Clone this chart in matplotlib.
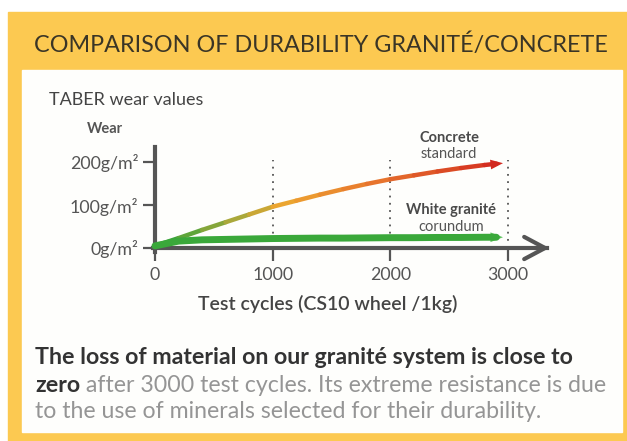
import matplotlib
matplotlib.use("Agg")
import matplotlib.pyplot as plt
import numpy as np
from matplotlib.collections import LineCollection
from matplotlib.colors import LinearSegmentedColormap
from matplotlib.patches import Rectangle

plt.rcParams['font.family'] = ['Lato', 'DejaVu Sans']

# data
cycles = [0, 200, 400, 600, 800, 1000, 1200, 1400, 1600, 1800, 2000, 2200, 2400, 2600, 2800, 2900]
concrete = [5, 23, 42, 60, 78, 96, 110, 124, 137, 149, 160, 169, 178, 186, 193, 196]
granite = [5, 16, 19, 20, 21, 22, 22.5, 23, 23, 23.5, 24, 24, 24.5, 24.5, 25, 25]
x_ticks = [0, 1000, 2000, 3000]
y_ticks = [0, 100, 200]
y_labels = ['0g/m²', '100g/m²', '200g/m²']
guides = [1000, 2000, 3000]

W, H = 627, 441
fig = plt.figure(figsize=(W / 100, H / 100), dpi=100)


def fx(px):
    return px / W


def fy(py):
    return 1 - py / H


# yellow frame and white card
fig.patches.append(Rectangle((fx(8), fy(441)), fx(619), 429 / H, transform=fig.transFigure,
                             color='#fcc951', zorder=-10))
fig.patches.append(Rectangle((fx(22), fy(432)), fx(600), 362 / H, transform=fig.transFigure,
                             color='#fefefc', zorder=-9))

fig.text(fx(321), fy(45), 'COMPARISON OF DURABILITY GRANITÉ/CONCRETE', ha='center', va='center',
         fontsize=16.8, color='#3a3526')
fig.text(fx(49), fy(100), 'TABER wear values', ha='left', va='center', fontsize=13, color='#444444')
fig.text(fx(105), fy(129), 'Wear', ha='center', va='center', fontsize=10.5, fontweight='bold', color='#555555')

# axes placed so that x=0 -> px 155, x=1000 -> 117.7px ; y=0 -> px 248, 100 -> 43px
ax_l, ax_r, ax_t, ax_b = 100, 600, 130, 300
ax = fig.add_axes([fx(ax_l), fy(ax_b), (ax_r - ax_l) / W, (ax_b - ax_t) / H])
ax.set_xlim((ax_l - 155) / 0.1177, (ax_r - 155) / 0.1177)
ax.set_ylim((248 - ax_b) / 0.43, (248 - ax_t) / 0.43)
ax.patch.set_alpha(0)

for s in ['top', 'right']:
    ax.spines[s].set_visible(False)
ax.spines['left'].set_position(('data', 0))
ax.spines['bottom'].set_position(('data', 0))
ax.spines['left'].set_bounds(-10, 235)
ax.spines['bottom'].set_bounds(-15, 3330)
for s in ['left', 'bottom']:
    ax.spines[s].set_color('#555555')
    ax.spines[s].set_linewidth(3)
ax.annotate('', xy=(3375, 0), xytext=(3200, 0),
            arrowprops=dict(arrowstyle='->,head_length=1.5,head_width=0.8', lw=3, color='#555555'))

ax.set_xticks(x_ticks)
ax.set_xticklabels([str(v) for v in x_ticks])
ax.set_yticks(y_ticks)
ax.set_yticklabels(y_labels)
ax.tick_params(axis='both', direction='out', length=9, width=1.6, color='#555555',
               labelsize=12.8, labelcolor='#555555')
ax.tick_params(axis='y', pad=3)
ax.tick_params(axis='x', pad=5)

for g in guides:
    ax.plot([g, g], [0, 205], linestyle=(0, (1, 3)), color='#555555', lw=1.3, zorder=1)

# concrete curve with gradient
cmap = LinearSegmentedColormap.from_list('wear', [(0, '#3aa33a'), (0.2, '#a8a83a'), (0.35, '#eda530'),
                                                  (0.6, '#e8782e'), (1, '#d2281f')])
pts = np.column_stack([cycles, concrete]).reshape(-1, 1, 2)
segs = np.concatenate([pts[:-1], pts[1:]], axis=1)
lc = LineCollection(segs, cmap=cmap, linewidths=3.2, capstyle='round', zorder=3)
lc.set_array(np.array(cycles[:-1]) / cycles[-1])
lc.set_clim(0, 1)
ax.add_collection(lc)
ax.annotate('', xy=(cycles[-1] + 80, concrete[-1] + 2), xytext=(cycles[-1] - 20, concrete[-1] - 1),
            arrowprops=dict(arrowstyle='-|>,head_length=0.9,head_width=0.35', lw=0, color='#d2281f'))

# granite
ax.plot(cycles, granite, color='#3aa83a', lw=5, solid_capstyle='round', zorder=4)
ax.annotate('', xy=(cycles[-1] + 80, granite[-1]), xytext=(cycles[-1] - 20, granite[-1]),
            arrowprops=dict(arrowstyle='-|>,head_length=0.9,head_width=0.35', lw=0, color='#5cc05c'))

fig.text(fx(449), fy(138), 'Concrete', ha='center', va='center', fontsize=10.5, fontweight='bold', color='#4a4a4a')
fig.text(fx(449), fy(154), 'standard', ha='center', va='center', fontsize=10.5, color='#555555')
fig.text(fx(451), fy(210), 'White granité', ha='center', va='center', fontsize=10.5, fontweight='bold',
         color='#4a4a4a')
fig.text(fx(451), fy(227), 'corundum', ha='center', va='center', fontsize=10.5, color='#555555')

fig.text(fx(328), fy(304), 'Test cycles (CS10 wheel /1kg)', ha='center', va='center', fontsize=14,
         fontweight='semibold', color='#444444')

# bottom caption
fig.text(fx(35), fy(357), 'The loss of material on our granité system is close to', ha='left', va='center',
         fontsize=16.7, fontweight='bold', color='#333333')
t2 = fig.text(fx(35), fy(385), 'zero', ha='left', va='center', fontsize=16.7, fontweight='bold', color='#333333')
ax.annotate(' after 3000 test cycles. Its extreme resistance is due', xy=(1, 0), xycoords=t2,
            ha='left', va='bottom', fontsize=16.7, color='#959595', annotation_clip=False)
fig.text(fx(35), fy(411), 'to the use of minerals selected for their durability.', ha='left', va='center',
         fontsize=16.7, color='#959595')

fig.savefig('out.png', dpi=100)
